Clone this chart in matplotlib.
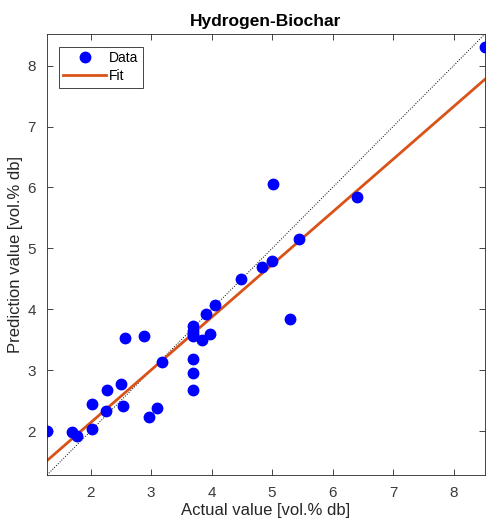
import numpy as np
import matplotlib
matplotlib.use("Agg")
import matplotlib.pyplot as plt

plt.rcParams['font.family'] = ['Liberation Sans', 'DejaVu Sans']

# actual vs predicted hydrogen (vol.% db)
actual = [1.28, 1.70, 1.78, 2.03, 2.03, 2.27, 2.26, 2.50, 2.54, 2.57,
          2.88, 2.97, 3.10, 3.18, 3.70, 3.70, 3.70, 3.70, 3.70, 3.70,
          3.70, 3.85, 3.90, 3.97, 4.05, 4.49, 4.83, 5.00, 5.01, 5.29,
          5.44, 6.40, 8.52]
predicted = [2.00, 1.99, 1.92, 2.03, 2.44, 2.67, 2.33, 2.78, 2.41, 3.53,
             3.57, 2.23, 2.38, 3.14, 3.72, 3.65, 3.60, 3.57, 3.19, 2.96,
             2.68, 3.49, 3.92, 3.60, 4.07, 4.49, 4.70, 4.80, 6.06, 3.84,
             5.15, 5.84, 8.30]

x_ticks = [2, 3, 4, 5, 6, 7, 8]
y_ticks = [2, 3, 4, 5, 6, 7, 8]

actual = np.array(actual)
predicted = np.array(predicted)
lo, hi = actual.min(), actual.max()

# linear fit of predicted vs actual
slope, intercept = np.polyfit(actual, predicted, 1)

fig = plt.figure(figsize=(4.86, 5.23), dpi=100)
ax = fig.add_axes([47/486, 48/523, 438/486, 441/523])

ax.plot([lo, hi], [lo, hi], ':', color='black', lw=0.7)
ax.plot(actual, predicted, 'o', color='#0000ff', ms=7.5, label='Data', zorder=3)
xs = np.array([lo, hi])
ax.plot(xs, slope * xs + intercept, '-', color='#D95319', lw=2, label='Fit', zorder=2)

ax.set_xlim(lo, hi)
ax.set_ylim(lo, hi)
ax.set_xticks(x_ticks)
ax.set_yticks(y_ticks)
ax.tick_params(direction='in', top=True, right=True, labelsize=11,
               colors='#262626', labelcolor='#3a3a3a', length=4, width=0.6, pad=8)
for s in ax.spines.values():
    s.set_color('#262626')
    s.set_linewidth(0.6)

ax.set_xlabel('Actual value [vol.% db]', fontsize=12, color='#262626', labelpad=2)
ax.set_ylabel('Prediction value [vol.% db]', fontsize=12, color='#262626', labelpad=3)
ax.set_title('Hydrogen-Biochar', fontsize=12.5, fontweight='bold', pad=6)

leg = ax.legend(loc='upper left', fontsize=10, fancybox=False, framealpha=1,
                edgecolor='#262626', borderpad=0.3, labelspacing=0.3,
                handlelength=3.1, handletextpad=0.2, borderaxespad=0,
                bbox_to_anchor=(12/438, 1 - 13/441))
leg.get_frame().set_linewidth(0.6)

fig.savefig('out.png', dpi=100)
